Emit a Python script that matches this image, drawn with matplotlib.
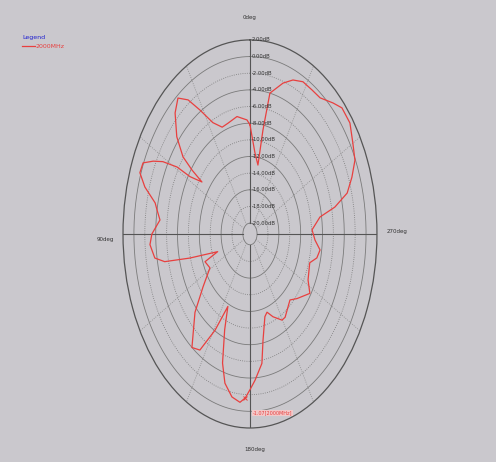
import numpy as np
import matplotlib.pyplot as plt

# pattern: angle (deg, 0 at top, counter-clockwise), gain (dB)
ang = [0, 2.3, 9.6, 16.8, 21.7, 27, 31.7, 35.2, 39, 43.4, 49, 53, 54.2, 54.7,
       58, 59, 61.5, 63.8, 66.5, 70, 73.7, 77.9, 80.4, 84.2, 90, 94, 99.4, 102,
       104.7, 109.7, 112, 119, 126.4, 133, 142, 146.6, 151, 155, 158, 162,
       165.6, 170.4, 174.8, 177.5, 180, 183, 188, 190.6, 195.4, 198.4, 203,
       209.6, 212.8, 222.8, 228, 237, 242.6, 252.5, 256.8, 261.5, 266.5, 272.5,
       279, 281.7, 285.4, 290, 294.7, 300, 306, 311.9, 315.9, 321.8, 326.7,
       332, 336.9, 341.5, 347.8, 349.2, 350, 354.7, 360]
gain = [-8.2, -7.6, -7.0, -7.4, -7.5, -6.3, -3.8, -1.6, -0.3, -1.3, -3.5, -5.9,
        -8.2, -10.5, -8.3, -5.7, -3.1, -1.5, 0.1, 0.2, -1.2, -3.5, -4.0, -4.7,
        -3.3, -2.9, -3.6, -5.3, -9.9, -15.0, -12.4, -12.9, -10.6, -7.5, -4.0,
        -4.6, -8.1, -11.7, -8.9, -5.0, -2.8, -1.45, -1.0, -1.6, -2.6, -3.7,
        -5.6, -8.3, -11.0, -11.4, -10.5, -9.4, -9.4, -10.5, -9.7, -8.2, -9.3,
        -9.8, -8.7, -8.3, -9.35, -9.9, -8.3, -5.4, -2.8, -1.4, -0.1, 0.5, 1.37,
        1.37, 0.6, -0.5, -0.6, -0.6, -1.2, -2.2, -4.0, -8.6, -12.9, -11.5, -8.2]
rings = np.arange(-20, 3, 2)
ring_labels = ['%.2fdB' % r for r in rings]
dir_labels = ['0deg', '90deg', '180deg', '270deg']
mark_ang = 177.5
mark_gain = -1.6
mark_text = '-1.07[2000MHz]'

bg = '#cac8cd'
fig = plt.figure(figsize=(4.96, 4.62), dpi=100)
fig.patch.set_facecolor(bg)
ax = fig.add_axes([0.248, 0.0736, 0.512, 0.840], projection='polar')
ax.set_aspect('auto')
ax.set_facecolor(bg)
ax.set_theta_zero_location('N')
ax.set_theta_direction(1)
ax.set_ylim(-21.3, 2)
ax.set_yticks([])
ax.set_xticks([])
ax.grid(False)
ax.spines['polar'].set_color('#555555')
ax.spines['polar'].set_linewidth(0.9)

t = np.linspace(0, 2 * np.pi, 361)
for i, r in enumerate(rings[:-1]):
    ls = '-' if i % 2 == 0 else ':'
    ax.plot(t, np.full_like(t, r), color='#7a7a7a', lw=0.6, ls=ls)
for a in range(30, 360, 30):
    if a % 90:
        ax.plot([np.deg2rad(a)] * 2, [-20, 2], color='#8a8a8a', lw=0.6, ls=':')
for a in (0, 90, 180, 270):
    ax.plot([np.deg2rad(a)] * 2, [-20, 2], color='#555555', lw=0.8)

for r, lab in zip(rings, ring_labels):
    ax.annotate(lab, (0, r), xytext=(1, 0), textcoords='offset points',
                fontsize=3.8, color='#333333', ha='left', va='center')

ax.plot(np.deg2rad(ang), gain, color='#e8403f', lw=0.9)
ax.plot(np.deg2rad(mark_ang), mark_gain, marker='x', color='#e8403f', ms=3, mew=0.7)
ax.annotate(mark_text, (np.deg2rad(180), -0.8), xytext=(2, -4), textcoords='offset points',
            fontsize=3.5, color='#e8403f', ha='left', va='top',
            bbox=dict(boxstyle='square,pad=0.1', fc='#f2c8c8', ec='none'))

# direction labels
fig.text(250 / 496, 1 - 18 / 462, dir_labels[0], fontsize=4, color='#333333', ha='center', va='center')
fig.text(105 / 496, 1 - 240 / 462, dir_labels[1], fontsize=4, color='#333333', ha='center', va='center')
fig.text(255 / 496, 1 - 450 / 462, dir_labels[2], fontsize=4, color='#333333', ha='center', va='center')
fig.text(397 / 496, 1 - 232 / 462, dir_labels[3], fontsize=4, color='#333333', ha='center', va='center')

# legend
fig.text(22 / 496, 1 - 38 / 462, 'Legend', fontsize=4.5, color='#2020d0', ha='left', va='center')
fig.lines.append(plt.Line2D([22 / 496, 35 / 496], [1 - 46 / 462] * 2, transform=fig.transFigure,
                            color='#e8403f', lw=0.9))
fig.text(35 / 496, 1 - 46 / 462, '2000MHz', fontsize=4.5, color='#e8403f', ha='left', va='center')

fig.savefig('out.png', dpi=100, facecolor=bg)
